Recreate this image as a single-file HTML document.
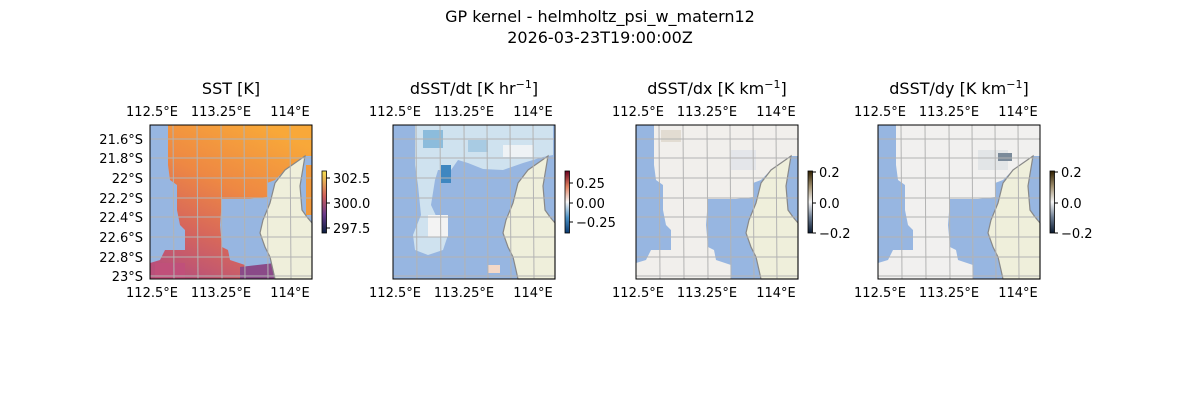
<!DOCTYPE html>
<html><head><meta charset="utf-8"><style>
body{margin:0;background:#fff;width:1200px;height:400px;overflow:hidden}
svg text{font-family:"DejaVu Sans","Liberation Sans",sans-serif;fill:#000}
</style></head><body>
<svg id="s" width="1200" height="400" xmlns="http://www.w3.org/2000/svg">
<defs>
<linearGradient id="g1" x1="0.7" y1="0" x2="0.2" y2="1">
<stop offset="0" stop-color="#f8a839"/><stop offset="0.4" stop-color="#ee8843"/><stop offset="0.7" stop-color="#d8685a"/><stop offset="1" stop-color="#b8507a"/></linearGradient>
<linearGradient id="cb1" x1="0" y1="1" x2="0" y2="0"><stop offset="0" stop-color="#0b1f40"/><stop offset="0.3" stop-color="#6a3a8a"/><stop offset="0.6" stop-color="#d0605a"/><stop offset="1" stop-color="#f5e050"/></linearGradient>
<linearGradient id="cb2" x1="0" y1="1" x2="0" y2="0"><stop offset="0" stop-color="#0a3a70"/><stop offset="0.25" stop-color="#4a90c4"/><stop offset="0.5" stop-color="#f7f7f7"/><stop offset="0.75" stop-color="#e08060"/><stop offset="1" stop-color="#6a0020"/></linearGradient>
<linearGradient id="cb3" x1="0" y1="1" x2="0" y2="0"><stop offset="0" stop-color="#0a1a30"/><stop offset="0.25" stop-color="#6a7a90"/><stop offset="0.5" stop-color="#f5f5f5"/><stop offset="0.75" stop-color="#a09070"/><stop offset="1" stop-color="#302000"/></linearGradient>
</defs>
<text x="600" y="22" font-size="16" text-anchor="middle">GP kernel - helmholtz_psi_w_matern12</text>
<text x="600" y="43" font-size="16" text-anchor="middle">2026-03-23T19:00:00Z</text>
</svg>
<script>
const s=document.getElementById('s');let h='';
const P1="18,0 162,0 162,31 155,31 135,45 125,55 117,58 117,72 100,74 72,74 70,100 72,122 78,125 80,135 95,140 95,154 0,154 0,138 10,135 15,125 35,125 35,105 30,100 27,85 27,60 20,55 18,40";
const P2="22,0 160,0 160,30 150,32 130,38 110,45 90,44 75,38 65,35 58,45 45,45 42,55 38,80 45,95 55,110 50,125 35,130 22,125 20,110 28,90 25,60 22,40";
const land="155,31 135,45 125,58 120,78 113,95 110,108 115,122 120,132 123,145 125,154 162,154 162,98 157,92 152,85 150,61";
const panels=[
 {x:150,t:'SST [K]',fill:'url(#g1)',poly:P1,cb:'url(#cb1)',cbl:[['302.5',178],['300.0',203],['297.5',228]],extra:'<polygon points="90,142 125,138 125,154 90,154" fill="#8a4a88"/><rect x="156" y="40" width="6" height="50" fill="#f19a3e"/><rect x="5" y="138" width="30" height="16" fill="#c0507a"/>'},
 {x:393,t:'dSST/dt [K hr<tspan font-size="11" dy="-6">−1</tspan><tspan dy="6">]</tspan>',fill:'#cfe2ef',poly:P2,cb:'url(#cb2)',cbl:[['0.25',183],['0.00',203],['−0.25',222]],extra:'<rect x="48" y="40" width="10" height="18" fill="#3f87c0"/><rect x="30" y="5" width="20" height="18" fill="#8cbcdc"/><rect x="75" y="15" width="20" height="12" fill="#a8cbe3"/><rect x="35" y="90" width="20" height="22" fill="#f3f3f3"/><rect x="110" y="20" width="30" height="12" fill="#eef2f5"/><rect x="95" y="140" width="12" height="8" fill="#f3d8c8"/>'},
 {x:636,t:'dSST/dx [K km<tspan font-size="11" dy="-6">−1</tspan><tspan dy="6">]</tspan>',fill:'#f1efec',poly:P1,cb:'url(#cb3)',cbl:[['0.2',172],['0.0',203],['−0.2',233]],extra:'<rect x="25" y="5" width="20" height="12" fill="#e2dcd2"/><rect x="95" y="25" width="25" height="20" fill="#e4e6ea"/>'},
 {x:878,t:'dSST/dy [K km<tspan font-size="11" dy="-6">−1</tspan><tspan dy="6">]</tspan>',fill:'#f1f0ef',poly:P1,cb:'url(#cb3)',cbl:[['0.2',172],['0.0',203],['−0.2',233]],extra:'<rect x="100" y="25" width="30" height="20" fill="#dcdfe4" opacity=".7"/><rect x="120" y="28" width="14" height="8" fill="#7a8a9a"/>'}
];
const lats=['21.6°S','21.8°S','22°S','22.2°S','22.4°S','22.6°S','22.8°S','23°S'];
const hy=[14,33,53,73,92,112,132,151],vx=[23,47,71,94,117,140];
panels.forEach((p,i)=>{
 const x=p.x,y=125;
 h+=`<g transform="translate(${x},${y})"><rect width="162" height="154" fill="#97b6e1"/><polygon points="${p.poly}" fill="${p.fill}"/>${p.extra}<polygon points="${land}" fill="#efefdb" stroke="#888" stroke-width="1.2"/>`;
 vx.forEach(v=>h+=`<line x1="${v}" y1="0" x2="${v+1}" y2="154" stroke="#b3b3b3" stroke-width="1"/>`);
 hy.forEach(v=>h+=`<line x1="0" y1="${v}" x2="162" y2="${v}" stroke="#b3b3b3" stroke-width="1"/>`);
 h+=`<rect width="162" height="154" fill="none" stroke="#000" stroke-width="1"/></g>`;
 const cx=x+81;
 h+=`<text x="${cx}" y="94" font-size="16" text-anchor="middle">${p.t}</text>`;
 [['112.5°E',2],['113.25°E',71],['114°E',140]].forEach(([l,o])=>{
  h+=`<text x="${x+o}" y="116" font-size="13" text-anchor="middle">${l}</text>`;
  h+=`<text x="${x+o}" y="297" font-size="13" text-anchor="middle">${l}</text>`;});
 if(i==0) lats.forEach((l,k)=>h+=`<text x="143" y="${125+hy[k]+5}" font-size="13" text-anchor="end">${l}</text>`);
 const bx=x+172;
 h+=`<rect x="${bx}" y="171" width="4.5" height="62" fill="${p.cb}" stroke="#000" stroke-width="0.8"/>`;
 p.cbl.forEach(([l,yy])=>{h+=`<line x1="${bx+4.5}" y1="${yy}" x2="${bx+8}" y2="${yy}" stroke="#000"/><text x="${bx+11}" y="${yy+5}" font-size="13">${l}</text>`;});
});
s.insertAdjacentHTML('beforeend',h);
</script>
</body></html>
